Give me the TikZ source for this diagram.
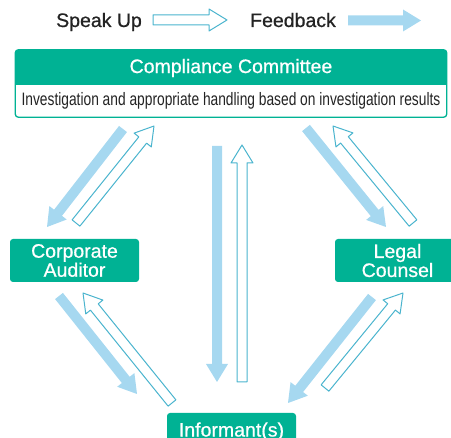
\documentclass[tikz,border=0pt]{standalone}
\usepackage{fontspec}
\setmainfont{Liberation Sans}
\newfontfamily\medfont[FakeBold=0.7]{Liberation Sans}
\newfontfamily\narrowfont[FakeStretch=0.765]{Liberation Sans}
\usetikzlibrary{calc}

\definecolor{cgreen}{RGB}{0,178,148}
\definecolor{fbblue}{RGB}{166,216,240}
\definecolor{suline}{RGB}{74,180,206}
\definecolor{txtgray}{RGB}{35,35,35}

% block arrow from #2 (tail) to #3 (tip)
\newcommand{\blockarrow}[3][]{%
  \path ($(#3)!18pt!(#2)$) coordinate (neck);
  \path[#1] ($(#2)!5pt!90:(#3)$) -- ($(neck)!5pt!-90:(#2)$) -- ($(neck)!11pt!-90:(#2)$)
    -- (#3) -- ($(neck)!11pt!90:(#2)$) -- ($(neck)!5pt!90:(#2)$) -- ($(#2)!5pt!-90:(#3)$) -- cycle;
}

\begin{document}
\begin{tikzpicture}[x=1pt, y=-1pt,
    greenbox/.style={fill=cgreen, text=white, rounded corners=3pt, align=center,
      inner sep=0pt, font=\medfont\fontsize{19.5}{19}\selectfont},
    legendtext/.style={text=txtgray, inner sep=0pt, font=\medfont\fontsize{19.5}{19}\selectfont},
    speakup/.style={draw=suline, fill=white, line width=1pt, line join=round},
    feedback/.style={fill=fbblue}]
    \useasboundingbox (0,0) rectangle (451,438);

    % legend
    \node[legendtext, anchor=base west] (speak) at (56,27) {Speak Up};
    \node[legendtext, anchor=base west] (fback) at (250,27) {Feedback};
    \coordinate (su-tail) at (153,20);
    \coordinate (su-tip) at (227,20);
    \coordinate (fb-tail) at (348,20.5);
    \coordinate (fb-tip) at (421,20.5);
    \blockarrow[speakup]{su-tail}{su-tip}
    \blockarrow[feedback]{fb-tail}{fb-tip}

    % compliance committee
    \node[minimum width=431pt, minimum height=67pt, inner sep=0pt] (committee) at (231,83.5) {};
    \begin{scope}
        \clip[rounded corners=3pt] (committee.north west) rectangle (committee.south east);
        \fill[cgreen] (committee.north west) rectangle (committee.east |- 0,85);
    \end{scope}
    \draw[cgreen, line width=1.3pt, rounded corners=3pt] (committee.north west) rectangle (committee.south east);
    \node[text=white, font=\medfont\fontsize{19.5}{19}\selectfont] (cctitle) at (231,68) {Compliance Committee};
    \node[text=txtgray, font=\narrowfont\fontsize{18}{20}\selectfont] (ccnote) at (231,101)
        {Investigation and appropriate handling based on investigation results};

    % the three parties
    \node[greenbox, minimum width=129pt, minimum height=43pt] (auditor) at (74.5,260.5) {Corporate\\Auditor};
    \node[greenbox, minimum width=125pt, minimum height=43pt] (counsel) at (397.5,260.5) {Legal\\Counsel};
    \node[greenbox, minimum width=129pt, minimum height=37pt] (informant) at (231.5,431.5) {Informant(s)};

    % arrow ends
    \coordinate (tl-fb-a) at (123,129);  \coordinate (tl-fb-b) at (47,227);
    \coordinate (tl-su-a) at (76,223);   \coordinate (tl-su-b) at (154,126);
    \coordinate (c-fb-a) at (217,146);   \coordinate (c-fb-b) at (217,382);
    \coordinate (c-su-a) at (242,382);   \coordinate (c-su-b) at (242,145);
    \coordinate (tr-fb-a) at (306,128);  \coordinate (tr-fb-b) at (386,227);
    \coordinate (tr-su-a) at (413,223);  \coordinate (tr-su-b) at (333,126);
    \coordinate (bl-fb-a) at (59,296);   \coordinate (bl-fb-b) at (137,394);
    \coordinate (bl-su-a) at (172,403);  \coordinate (bl-su-b) at (83,293);
    \coordinate (br-fb-a) at (372,297);  \coordinate (br-fb-b) at (288,403);
    \coordinate (br-su-a) at (325,388);  \coordinate (br-su-b) at (403,293);

    \blockarrow[feedback]{tl-fb-a}{tl-fb-b}
    \blockarrow[speakup]{tl-su-a}{tl-su-b}
    \blockarrow[feedback]{c-fb-a}{c-fb-b}
    \blockarrow[speakup]{c-su-a}{c-su-b}
    \blockarrow[feedback]{tr-fb-a}{tr-fb-b}
    \blockarrow[speakup]{tr-su-a}{tr-su-b}
    \blockarrow[feedback]{bl-fb-a}{bl-fb-b}
    \blockarrow[speakup]{bl-su-a}{bl-su-b}
    \blockarrow[feedback]{br-fb-a}{br-fb-b}
    \blockarrow[speakup]{br-su-a}{br-su-b}

\end{tikzpicture}
\end{document}
